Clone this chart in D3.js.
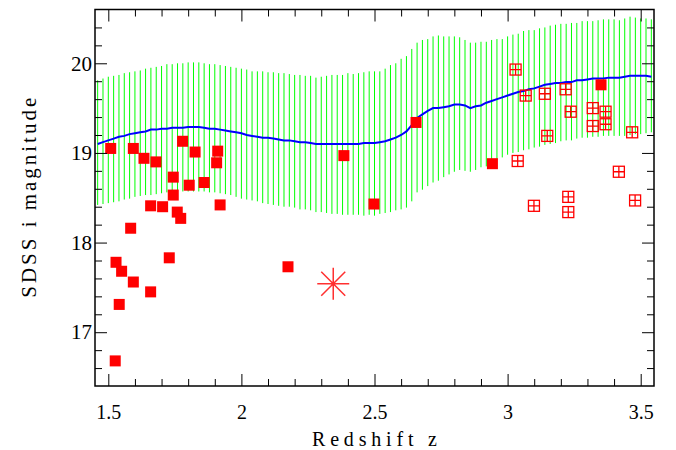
<!DOCTYPE html>
<html>
<head>
<meta charset="utf-8">
<script src="https://cdn.jsdelivr.net/npm/d3@7"></script>
<style>
  body { margin: 0; background: #fff; }
  text { font-family: "Liberation Serif", serif; fill: #000; }
</style>
</head>
<body>
<div id="viz"></div>
<script>
// model band, sampled every 0.02 in z
const bandZ = [
  1.46,1.48,1.50,1.52,1.54,1.56,1.58,1.60,1.62,1.64,
  1.66,1.68,1.70,1.72,1.74,1.76,1.78,1.80,1.82,1.84,
  1.86,1.88,1.90,1.92,1.94,1.96,1.98,2.00,2.02,2.04,
  2.06,2.08,2.10,2.12,2.14,2.16,2.18,2.20,2.22,2.24,
  2.26,2.28,2.30,2.32,2.34,2.36,2.38,2.40,2.42,2.44,
  2.46,2.48,2.50,2.52,2.54,2.56,2.58,2.60,2.62,2.64,
  2.66,2.68,2.70,2.72,2.74,2.76,2.78,2.80,2.82,2.84,
  2.86,2.88,2.90,2.92,2.94,2.96,2.98,3.00,3.02,3.04,
  3.06,3.08,3.10,3.12,3.14,3.16,3.18,3.20,3.22,3.24,
  3.26,3.28,3.30,3.32,3.34,3.36,3.38,3.40,3.42,3.44,
  3.46,3.48,3.50,3.52,3.54
];
const bandHigh = [
  19.81,19.83,19.85,19.86,19.87,19.89,19.90,19.91,19.92,19.94,
  19.95,19.96,19.97,19.99,19.99,20.00,20.00,20.01,20.01,20.01,
  20.00,19.99,19.99,19.98,19.97,19.96,19.95,19.94,19.93,19.91,
  19.91,19.91,19.90,19.90,19.89,19.89,19.88,19.87,19.87,19.86,
  19.86,19.84,19.85,19.86,19.87,19.87,19.87,19.89,19.88,19.89,
  19.90,19.91,19.91,19.91,19.94,19.98,20.00,20.05,20.08,20.16,
  20.23,20.26,20.27,20.30,20.31,20.30,20.30,20.30,20.29,20.26,
  20.23,20.23,20.24,20.24,20.26,20.27,20.27,20.30,20.32,20.33,
  20.36,20.37,20.37,20.39,20.40,20.42,20.43,20.44,20.44,20.45,
  20.45,20.47,20.47,20.47,20.48,20.49,20.49,20.49,20.48,20.50,
  20.52,20.51,20.50,20.50,20.49
];
const bandLow = [
  18.42,18.43,18.44,18.45,18.46,18.48,18.49,18.51,18.52,18.53,
  18.53,18.54,18.55,18.56,18.56,18.57,18.57,18.57,18.57,18.57,
  18.57,18.56,18.56,18.55,18.54,18.53,18.51,18.49,18.48,18.47,
  18.46,18.44,18.43,18.42,18.41,18.40,18.40,18.39,18.37,18.37,
  18.36,18.34,18.34,18.33,18.32,18.32,18.31,18.31,18.31,18.31,
  18.30,18.31,18.30,18.32,18.33,18.34,18.36,18.37,18.39,18.46,
  18.56,18.59,18.63,18.67,18.69,18.73,18.76,18.79,18.81,18.80,
  18.79,18.81,18.84,18.85,18.87,18.92,18.95,18.98,19.00,19.01,
  19.03,19.04,19.06,19.07,19.09,19.10,19.11,19.13,19.14,19.14,
  19.16,19.17,19.17,19.18,19.18,19.19,19.19,19.19,19.19,19.19,
  19.20,19.21,19.21,19.22,19.23
];
const bandMean = [
  19.10,19.12,19.14,19.16,19.18,19.19,19.21,19.22,19.23,19.24,
  19.26,19.26,19.27,19.27,19.28,19.28,19.28,19.29,19.29,19.29,
  19.28,19.27,19.27,19.26,19.25,19.24,19.23,19.22,19.20,19.19,
  19.18,19.17,19.17,19.16,19.15,19.14,19.14,19.13,19.12,19.12,
  19.11,19.10,19.10,19.10,19.10,19.10,19.10,19.10,19.10,19.10,
  19.11,19.11,19.11,19.12,19.13,19.15,19.17,19.20,19.24,19.31,
  19.39,19.43,19.47,19.50,19.50,19.51,19.52,19.54,19.54,19.53,
  19.50,19.52,19.53,19.56,19.58,19.60,19.62,19.64,19.66,19.68,
  19.69,19.71,19.72,19.74,19.76,19.77,19.78,19.78,19.79,19.79,
  19.81,19.81,19.82,19.83,19.83,19.83,19.84,19.84,19.84,19.85,
  19.86,19.86,19.86,19.86,19.85
];

// quasars, filled squares
const filledZ = [1.509,1.594,1.634,1.679,1.779,1.826,1.911,1.907,1.744,1.804,
                 1.860,1.744,2.385,1.659,1.704,1.759,1.772,1.920,1.584,1.529,
                 1.550,1.594,1.659,1.729,2.175,1.541,1.526,2.656,2.943,3.351,2.498];
const filledMag = [19.05,19.05,18.94,18.90,19.13,19.01,19.02,18.89,18.73,18.64,
                   18.67,18.53,18.97,18.41,18.40,18.34,18.27,18.42,18.16,17.78,
                   17.68,17.56,17.45,17.83,17.73,17.31,16.68,19.34,18.88,19.76,18.43];

// open squares with cross
const openZ = [3.030,3.068,3.140,3.218,3.237,3.320,3.368,3.368,3.320,3.149,
               3.468,3.038,3.418,3.228,3.099,3.228,3.479];
const openMag = [19.93,19.64,19.66,19.71,19.46,19.50,19.46,19.32,19.30,19.19,
                 19.23,18.91,18.79,18.51,18.41,18.34,18.47];

const starZ = [2.345];
const starMag = [17.54];

const xMajor = [1.5, 2, 2.5, 3, 3.5];
const xLabels = ["1.5", "2", "2.5", "3", "3.5"];
const yMajor = [17, 18, 19, 20];
const yLabels = ["17", "18", "19", "20"];

const width = 676, height = 450,
      margin = {left: 95, right: 22, top: 9.5, bottom: 64},
      w = width - margin.left - margin.right,
      h = height - margin.top - margin.bottom;

const svg = d3.select("#viz").append("svg")
  .attr("width", width).attr("height", height)
  .append("g")
  .attr("transform", `translate(${margin.left},${margin.top})`);

const x = d3.scaleLinear().domain([1.45, 3.55]).range([0, w]);
const y = d3.scaleLinear().domain([16.4, 20.6]).range([h, 0]);

const band = bandZ.map((z, i) => ({z, lo: bandLow[i], hi: bandHigh[i], m: bandMean[i]}));

// green band of vertical strokes
svg.append("g").selectAll("line").data(band).join("line")
  .attr("x1", d => x(d.z)).attr("x2", d => x(d.z))
  .attr("y1", d => y(d.lo)).attr("y2", d => y(d.hi))
  .style("stroke", "#00ff00")
  .style("stroke-width", 1);

// mean line
svg.append("path")
  .attr("d", d3.line().x(d => x(d.z)).y(d => y(d.m))(band))
  .style("fill", "none")
  .style("stroke", "#0000ff")
  .style("stroke-width", 2);

// filled squares
const fs = 11;
svg.append("g").selectAll("rect")
  .data(filledZ.map((z, i) => ({z, m: filledMag[i]})))
  .join("rect")
  .attr("x", d => x(d.z) - fs / 2).attr("y", d => y(d.m) - fs / 2)
  .attr("width", fs).attr("height", fs)
  .style("fill", "#ff0000");

// open squares with a cross inside
const os = 11;
const opn = svg.append("g").selectAll("g")
  .data(openZ.map((z, i) => ({z, m: openMag[i]})))
  .join("g")
  .attr("transform", d => `translate(${x(d.z)},${y(d.m)})`)
  .style("stroke", "#ff0000").style("stroke-width", 1.3).style("fill", "none");
opn.append("rect").attr("x", -os / 2).attr("y", -os / 2).attr("width", os).attr("height", os);
opn.append("path").attr("d", `M${-os / 2},0H${os / 2}M0,${-os / 2}V${os / 2}`);

// asterisk
svg.append("g").selectAll("path")
  .data(starZ.map((z, i) => ({z, m: starMag[i]})))
  .join("path")
  .attr("transform", d => `translate(${x(d.z)},${y(d.m)})`)
  .attr("d", "M-16,0H16M0,-16V16M-12,-12L12,12M-12,12L12,-12")
  .style("stroke", "#ff3030").style("stroke-width", 1.5).style("fill", "none");

// axes: major and minor ticks on all four sides, pointing inward
const xMinor = d3.range(15, 36).map(v => v / 10).filter(v => !xMajor.includes(v));
const yMinor = d3.range(83, 103).map(v => v / 5).filter(v => !yMajor.includes(v));

function axis(gen, scale, vals, size, fmt, t) {
  const g = svg.append("g").attr("transform", t || null)
    .call(gen(scale).tickValues(vals).tickSize(size).tickFormat(fmt || (() => "")));
  g.select(".domain").remove();
  g.selectAll(".tick line").style("stroke", "#000").style("stroke-width", 1);
  return g;
}

const xb = axis(d3.axisBottom, x, xMajor, -12, (d, i) => xLabels[i], `translate(0,${h})`);
xb.call(a => a.selectAll("text").attr("y", 19).style("font-size", "20px"));
axis(d3.axisBottom, x, xMinor, -7, null, `translate(0,${h})`);
axis(d3.axisTop, x, xMajor, -12);
axis(d3.axisTop, x, xMinor, -7);

const yl = axis(d3.axisLeft, y, yMajor, -12, (d, i) => yLabels[i]);
yl.call(a => a.selectAll("text").attr("x", -3).style("font-size", "21px"));
axis(d3.axisLeft, y, yMinor, -7);
axis(d3.axisRight, y, yMajor, -12, null, `translate(${w},0)`);
axis(d3.axisRight, y, yMinor, -7, null, `translate(${w},0)`);

svg.append("rect")
  .attr("width", w).attr("height", h)
  .style("fill", "none").style("stroke", "#000").style("stroke-width", 1.5);

// axis titles
svg.append("text")
  .attr("x", w / 2).attr("y", h + 60)
  .attr("text-anchor", "middle")
  .attr("textLength", 125).attr("lengthAdjust", "spacing")
  .style("font-size", "20px")
  .text("Redshift  z");

svg.append("text")
  .attr("transform", `translate(${-59},${h / 2}) rotate(-90)`)
  .attr("text-anchor", "middle")
  .attr("textLength", 200).attr("lengthAdjust", "spacing")
  .style("font-size", "21px")
  .text("SDSS i magnitude");
</script>
</body>
</html>
